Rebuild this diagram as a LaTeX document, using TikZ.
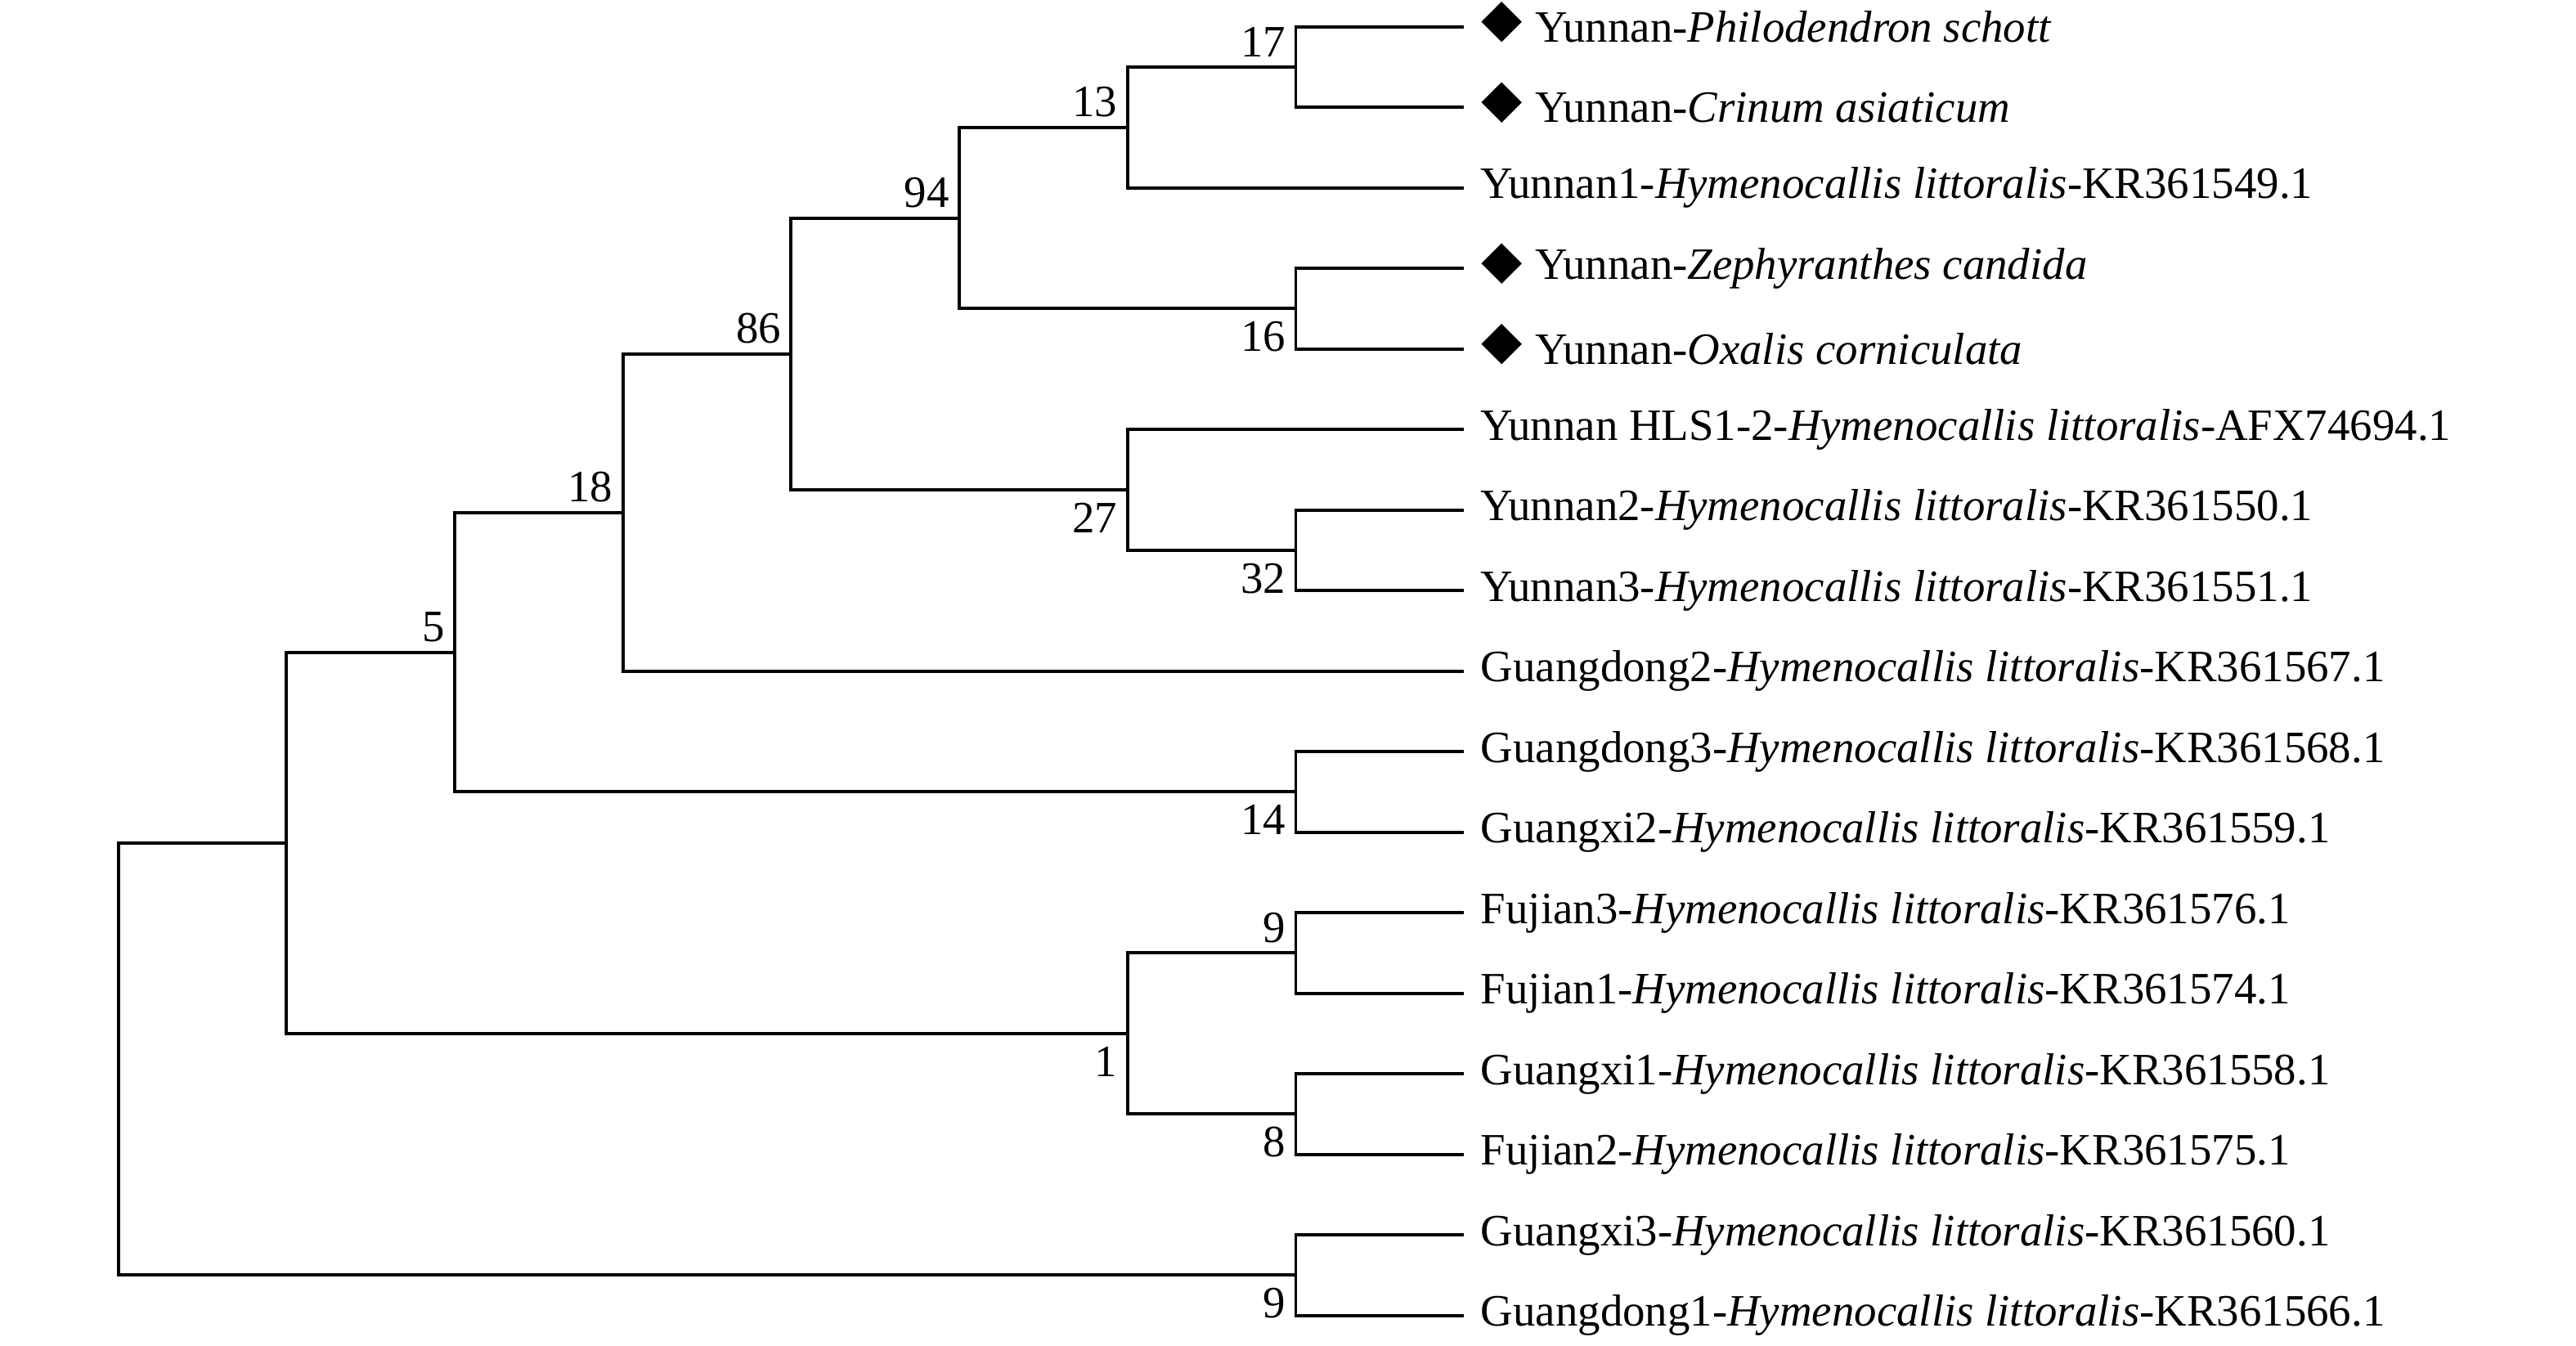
\documentclass[tikz,border=0pt]{standalone}
\usepackage{fontspec}
\setmainfont{Liberation Serif}
\usetikzlibrary{shapes.geometric}

\begin{document}
\begin{tikzpicture}[x=2.057cm,y=-0.985cm,
    every node/.style={font=\fontsize{15.6pt}{18pt}\selectfont},
    branch/.style={line width=1.1pt,line join=miter},
    leaf/.style={anchor=west,inner sep=0pt,xshift=0.2cm},
    leafgem/.style={leaf,xshift=0.67cm},
    gem/.style={diamond,fill=black,inner sep=0pt,minimum width=0.5cm,
                minimum height=0.5cm,xshift=0.46cm,yshift=0.06cm},
    bootup/.style={anchor=south east},
    bootdn/.style={anchor=north east,yshift=-1pt}]
    \useasboundingbox (-0.703,-0.332) rectangle (14.611,16.378);
    % tips
    \foreach \i in {1,...,17} \coordinate (t\i) at (8,\i-1);
    % inner nodes
    \coordinate (a17) at (7,0.5);
    \coordinate (a13) at (6,1.25);
    \coordinate (a16) at (7,3.5);
    \coordinate (a94) at (5,2.375);
    \coordinate (a32) at (7,6.5);
    \coordinate (a27) at (6,5.75);
    \coordinate (a86) at (4,4.0625);
    \coordinate (a18) at (3,6.03125);
    \coordinate (a14) at (7,9.5);
    \coordinate (a5)  at (2,7.765625);
    \coordinate (a9)  at (7,11.5);
    \coordinate (a8)  at (7,13.5);
    \coordinate (a1)  at (6,12.5);
    \coordinate (u1)  at (1,10.1328);
    \coordinate (a9b) at (7,15.5);
    \coordinate (u0)  at (0,12.8164);
    % branches
    \draw[branch] (t1) -| (a17) |- (t2);
    \draw[branch] (a17) -| (a13) |- (t3);
    \draw[branch] (t4) -| (a16) |- (t5);
    \draw[branch] (a13) -| (a94) |- (a16);
    \draw[branch] (t7) -| (a32) |- (t8);
    \draw[branch] (t6) -| (a27) |- (a32);
    \draw[branch] (a94) -| (a86) |- (a27);
    \draw[branch] (a86) -| (a18) |- (t9);
    \draw[branch] (t10) -| (a14) |- (t11);
    \draw[branch] (a18) -| (a5) |- (a14);
    \draw[branch] (t12) -| (a9) |- (t13);
    \draw[branch] (t14) -| (a8) |- (t15);
    \draw[branch] (a9) -| (a1) |- (a8);
    \draw[branch] (a5) -| (u1) |- (a1);
    \draw[branch] (t16) -| (a9b) |- (t17);
    \draw[branch] (u1) -| (u0) |- (a9b);
    % bootstrap values
    \node[bootup] (s17) at (a17) {17};
    \node[bootup] (s13) at (a13) {13};
    \node[bootup] (s94) at (a94) {94};
    \node[bootup] (s86) at (a86) {86};
    \node[bootup] (s18) at (a18) {18};
    \node[bootup] (s5)  at (a5)  {5};
    \node[bootup] (s9)  at (a9)  {9};
    \node[bootdn] (s16) at (a16) {16};
    \node[bootdn] (s27) at (a27) {27};
    \node[bootdn] (s32) at (a32) {32};
    \node[bootdn] (s14) at (a14) {14};
    \node[bootdn] (s1)  at (a1)  {1};
    \node[bootdn] (s8)  at (a8)  {8};
    \node[bootdn] (s9b) at (a9b) {9};
    % leaves
    \node[gem] (g1) at (t1) {};
    \node[gem] (g2) at (t2) {};
    \node[gem] (g4) at (t4) {};
    \node[gem] (g5) at (t5) {};
    \node[leafgem] (l1) at (t1) {Yunnan-\textit{Philodendron schott}};
    \node[leafgem] (l2) at (t2) {Yunnan-\textit{Crinum asiaticum}};
    \node[leaf] (l3) at (t3) {Yunnan1-\textit{Hymenocallis littoralis}-KR361549.1};
    \node[leafgem] (l4) at (t4) {Yunnan-\textit{Zephyranthes candida}};
    \node[leafgem] (l5) at (t5) {Yunnan-\textit{Oxalis corniculata}};
    \node[leaf] (l6) at (t6) {Yunnan HLS1-2-\textit{Hymenocallis littoralis}-AFX74694.1};
    \node[leaf] (l7) at (t7) {Yunnan2-\textit{Hymenocallis littoralis}-KR361550.1};
    \node[leaf] (l8) at (t8) {Yunnan3-\textit{Hymenocallis littoralis}-KR361551.1};
    \node[leaf] (l9) at (t9) {Guangdong2-\textit{Hymenocallis littoralis}-KR361567.1};
    \node[leaf] (l10) at (t10) {Guangdong3-\textit{Hymenocallis littoralis}-KR361568.1};
    \node[leaf] (l11) at (t11) {Guangxi2-\textit{Hymenocallis littoralis}-KR361559.1};
    \node[leaf] (l12) at (t12) {Fujian3-\textit{Hymenocallis littoralis}-KR361576.1};
    \node[leaf] (l13) at (t13) {Fujian1-\textit{Hymenocallis littoralis}-KR361574.1};
    \node[leaf] (l14) at (t14) {Guangxi1-\textit{Hymenocallis littoralis}-KR361558.1};
    \node[leaf] (l15) at (t15) {Fujian2-\textit{Hymenocallis littoralis}-KR361575.1};
    \node[leaf] (l16) at (t16) {Guangxi3-\textit{Hymenocallis littoralis}-KR361560.1};
    \node[leaf] (l17) at (t17) {Guangdong1-\textit{Hymenocallis littoralis}-KR361566.1};
\end{tikzpicture}
\end{document}
